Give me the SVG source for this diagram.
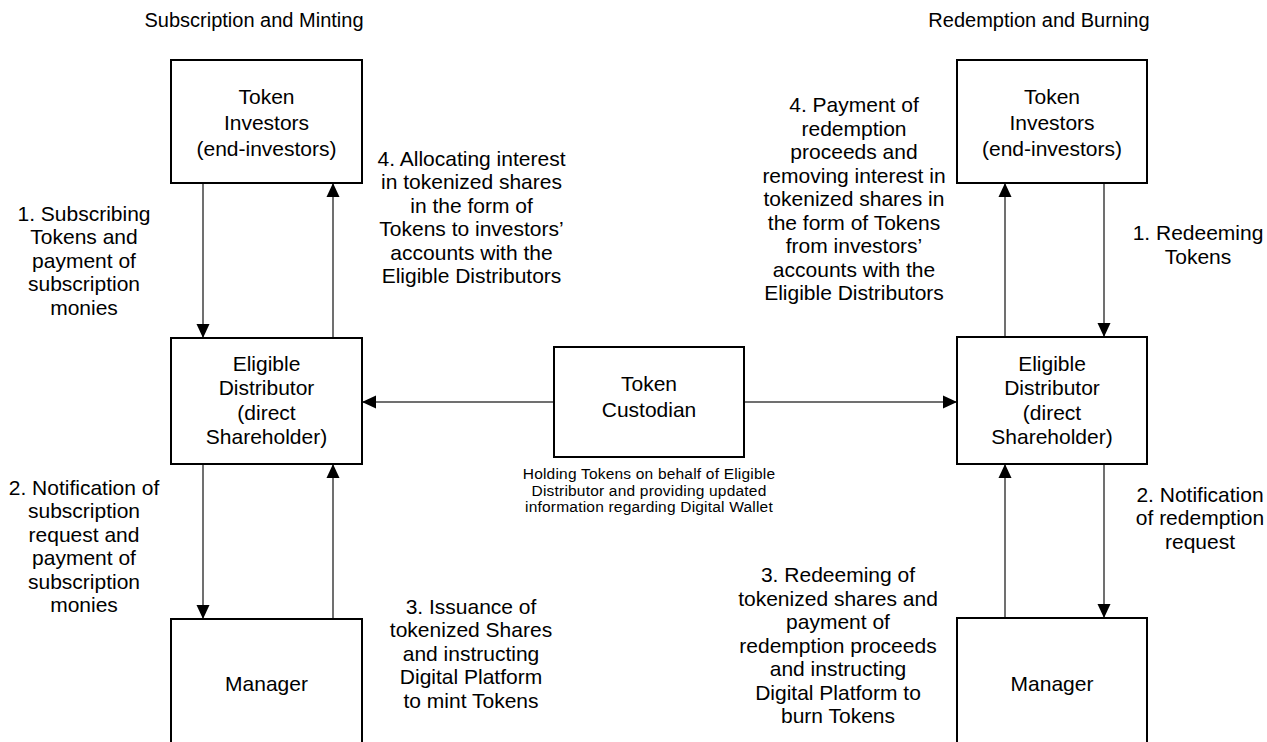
<svg xmlns="http://www.w3.org/2000/svg" width="1267" height="742" viewBox="0 0 1267 742">
<style>
text{font-family:"Liberation Sans",Arial,sans-serif;fill:#000;text-anchor:middle}
.n{font-size:21px}
.l{font-size:21px}
.t{font-size:20px}
.s{font-size:15.5px;letter-spacing:0.2px}
.box{fill:#fff;stroke:#000;stroke-width:2}
.c{stroke:#404040;stroke-width:1.5;fill:none;marker-end:url(#ah)}
</style>
<defs>
<marker id="ah" markerUnits="userSpaceOnUse" markerWidth="14" markerHeight="14" refX="14" refY="7" orient="auto">
<path d="M0,0.5 L14,7 L0,13.5 z" fill="#000"/>
</marker>
</defs>
<rect width="1267" height="742" fill="#fff"/>
<text class="t" x="254" y="27">Subscription and Minting</text>
<text class="t" x="1039" y="27">Redemption and Burning</text>

<g id="connectors">
<line class="c" x1="203" y1="183" x2="203" y2="338"/>
<line class="c" x1="333" y1="338" x2="333" y2="183"/>
<line class="c" x1="203" y1="464" x2="203" y2="619"/>
<line class="c" x1="333" y1="619" x2="333" y2="464"/>
<line class="c" x1="554" y1="402" x2="362" y2="402"/>
<line class="c" x1="744" y1="402" x2="957" y2="402"/>
<line class="c" x1="1005" y1="337" x2="1005" y2="183"/>
<line class="c" x1="1104" y1="183" x2="1104" y2="337"/>
<line class="c" x1="1005" y1="618" x2="1005" y2="464"/>
<line class="c" x1="1104" y1="464" x2="1104" y2="618"/>
</g>

<g id="l-investors">
<rect class="box" x="171" y="60" width="191" height="123"/>
<text class="n" x="266.5" y="104">Token</text>
<text class="n" x="266.5" y="130">Investors</text>
<text class="n" x="266.5" y="156">(end-investors)</text>
</g>
<g id="l-distributor">
<rect class="box" x="171" y="338" width="191" height="126"/>
<text class="n" x="266.5" y="370.5">Eligible</text>
<text class="n" x="266.5" y="395">Distributor</text>
<text class="n" x="266.5" y="419.5">(direct</text>
<text class="n" x="266.5" y="444">Shareholder)</text>
</g>
<g id="l-manager">
<rect class="box" x="171" y="619" width="191" height="130"/>
<text class="n" x="266.5" y="690.5">Manager</text>
</g>

<g id="custodian">
<rect class="box" x="554" y="347" width="190" height="110"/>
<text class="n" x="649" y="391">Token</text>
<text class="n" x="649" y="416.5">Custodian</text>
<text class="s" x="649" y="479">Holding Tokens on behalf of Eligible</text>
<text class="s" x="649" y="495.5">Distributor and providing updated</text>
<text class="s" x="649" y="512">information regarding Digital Wallet</text>
</g>

<g id="r-investors">
<rect class="box" x="957" y="60" width="190" height="123"/>
<text class="n" x="1052" y="104">Token</text>
<text class="n" x="1052" y="130">Investors</text>
<text class="n" x="1052" y="156">(end-investors)</text>
</g>
<g id="r-distributor">
<rect class="box" x="957" y="337" width="190" height="127"/>
<text class="n" x="1052" y="370.5">Eligible</text>
<text class="n" x="1052" y="395">Distributor</text>
<text class="n" x="1052" y="419.5">(direct</text>
<text class="n" x="1052" y="444">Shareholder)</text>
</g>
<g id="r-manager">
<rect class="box" x="957" y="618" width="190" height="130"/>
<text class="n" x="1052" y="690.5">Manager</text>
</g>

<g id="labels">
<text class="l" x="84" y="220.5">1. Subscribing</text>
<text class="l" x="84" y="244">Tokens and</text>
<text class="l" x="84" y="267.5">payment of</text>
<text class="l" x="84" y="291">subscription</text>
<text class="l" x="84" y="314.5">monies</text>

<text class="l" x="84" y="494.5">2. Notification of</text>
<text class="l" x="84" y="518">subscription</text>
<text class="l" x="84" y="541.5">request and</text>
<text class="l" x="84" y="565">payment of</text>
<text class="l" x="84" y="588.5">subscription</text>
<text class="l" x="84" y="612">monies</text>

<text class="l" x="471.5" y="165.5">4. Allocating interest</text>
<text class="l" x="471.5" y="189">in tokenized shares</text>
<text class="l" x="471.5" y="212.5">in the form of</text>
<text class="l" x="471.5" y="236">Tokens to investors’</text>
<text class="l" x="471.5" y="259.5">accounts with the</text>
<text class="l" x="471.5" y="283">Eligible Distributors</text>

<text class="l" x="471" y="613.5">3. Issuance of</text>
<text class="l" x="471" y="637">tokenized Shares</text>
<text class="l" x="471" y="660.5">and instructing</text>
<text class="l" x="471" y="684">Digital Platform</text>
<text class="l" x="471" y="707.5">to mint Tokens</text>

<text class="l" x="854" y="112">4. Payment of</text>
<text class="l" x="854" y="135.5">redemption</text>
<text class="l" x="854" y="159">proceeds and</text>
<text class="l" x="854" y="182.5">removing interest in</text>
<text class="l" x="854" y="206">tokenized shares in</text>
<text class="l" x="854" y="229.5">the form of Tokens</text>
<text class="l" x="854" y="253">from investors’</text>
<text class="l" x="854" y="276.5">accounts with the</text>
<text class="l" x="854" y="300">Eligible Distributors</text>

<text class="l" x="1198" y="240">1. Redeeming</text>
<text class="l" x="1198" y="263.5">Tokens</text>

<text class="l" x="1200" y="501.5">2. Notification</text>
<text class="l" x="1200" y="525">of redemption</text>
<text class="l" x="1200" y="548.5">request</text>

<text class="l" x="838" y="582">3. Redeeming of</text>
<text class="l" x="838" y="605.5">tokenized shares and</text>
<text class="l" x="838" y="629">payment of</text>
<text class="l" x="838" y="652.5">redemption proceeds</text>
<text class="l" x="838" y="676">and instructing</text>
<text class="l" x="838" y="699.5">Digital Platform to</text>
<text class="l" x="838" y="723">burn Tokens</text>
</g>
</svg>
